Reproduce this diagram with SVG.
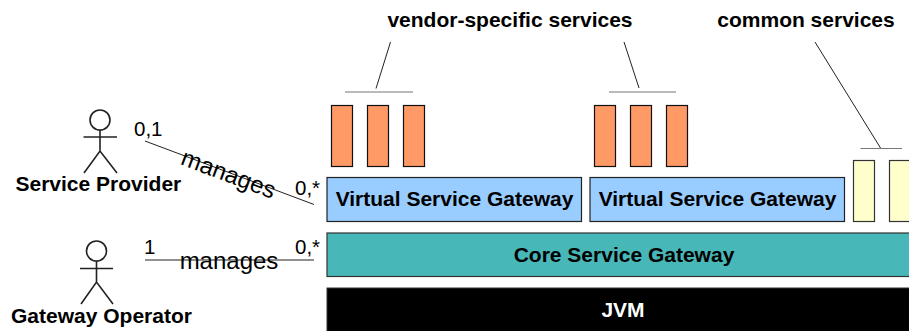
<svg xmlns="http://www.w3.org/2000/svg" width="909" height="331" viewBox="0 0 909 331">
<style>
text{font-family:"Liberation Sans",Arial,sans-serif;fill:#000}
.b{font-weight:700;font-size:21px}
.c{text-anchor:middle}
.r{font-size:20.5px}
.m{font-size:24px}
.o{fill:#f96;stroke:#111;stroke-width:1.2}
.y{fill:#ffc;stroke:#333;stroke-width:1.2}
.v{fill:#9cf;stroke:#222;stroke-width:1.2}
.l{stroke:#222;stroke-width:1;fill:none}
.g{stroke:#777;stroke-width:1.2;fill:none}
.a{stroke:#222;stroke-width:1.6;fill:none}
</style>
<rect width="909" height="331" fill="#fff"/>
<g id="connectors">
<line class="l" x1="145" y1="141" x2="314" y2="204.5"/>
<line class="l" x1="145" y1="260" x2="314" y2="260"/>
<line class="g" x1="345" y1="92" x2="413" y2="92"/>
<line class="l" x1="390.5" y1="42" x2="376" y2="88.5"/>
<line class="g" x1="609" y1="92" x2="676" y2="92"/>
<line class="l" x1="624" y1="42" x2="639" y2="88"/>
<line class="g" x1="860.5" y1="148.5" x2="902" y2="148.5"/>
<line class="l" x1="815" y1="42" x2="880.5" y2="148"/>
</g>
<g id="service-provider">
<circle class="a" cx="100" cy="120" r="10"/>
<path class="a" d="M100 130V151M83.500 137H117M84 173L100 151L117 173"/>
<text class="b" x="15.500" y="191">Service Provider</text>
</g>
<g id="gateway-operator">
<circle class="a" cx="96.500" cy="251" r="10"/>
<path class="a" d="M96.500 261V282M80 268.500H113M81 304L96.500 282L113 304"/>
<text class="b" x="11" y="323">Gateway Operator</text>
</g>
<g id="labels">
<text class="r" x="134" y="136">0,1</text>
<text class="r" x="295" y="195">0,*</text>
<text class="r" x="144" y="254">1</text>
<text class="r" x="295" y="254">0,*</text>
<text class="m" x="228.500" y="182" text-anchor="middle" transform="rotate(20.600 228.500 174)">manages</text>
<text class="m" x="229" y="269" text-anchor="middle">manages</text>
<text class="b c" x="510" y="27">vendor-specific services</text>
<text class="b c" x="806" y="27">common services</text>
</g>
<g id="vendor-services-1">
<rect class="o" x="331.500" y="105.500" width="21" height="61"/>
<rect class="o" x="367.500" y="105.500" width="21" height="61"/>
<rect class="o" x="403.500" y="105.500" width="21" height="61"/>
</g>
<g id="vendor-services-2">
<rect class="o" x="594.500" y="105.500" width="21" height="61"/>
<rect class="o" x="630.500" y="105.500" width="21" height="61"/>
<rect class="o" x="666.500" y="105.500" width="21" height="61"/>
</g>
<g id="common-services">
<rect class="y" x="853.500" y="160.500" width="21" height="61"/>
<rect class="y" x="889.500" y="160.500" width="21" height="61"/>
</g>
<g id="virtual-gateway-1">
<rect class="v" x="327" y="177.500" width="254.500" height="44"/>
<text class="b c" x="454.500" y="206">Virtual Service Gateway</text>
</g>
<g id="virtual-gateway-2">
<rect class="v" x="590" y="177.500" width="254.500" height="44"/>
<text class="b c" x="717.500" y="206">Virtual Service Gateway</text>
</g>
<g id="core-gateway">
<rect x="327" y="233" width="590" height="43.500" fill="#47b7b7" stroke="#333" stroke-width="1.200"/>
<text class="b c" x="624" y="262">Core Service Gateway</text>
</g>
<g id="jvm">
<rect x="327" y="288" width="590" height="50" fill="#000" stroke="#333" stroke-width="1"/>
<text class="b c" x="623" y="317" style="fill:#fff">JVM</text>
</g>
</svg>
